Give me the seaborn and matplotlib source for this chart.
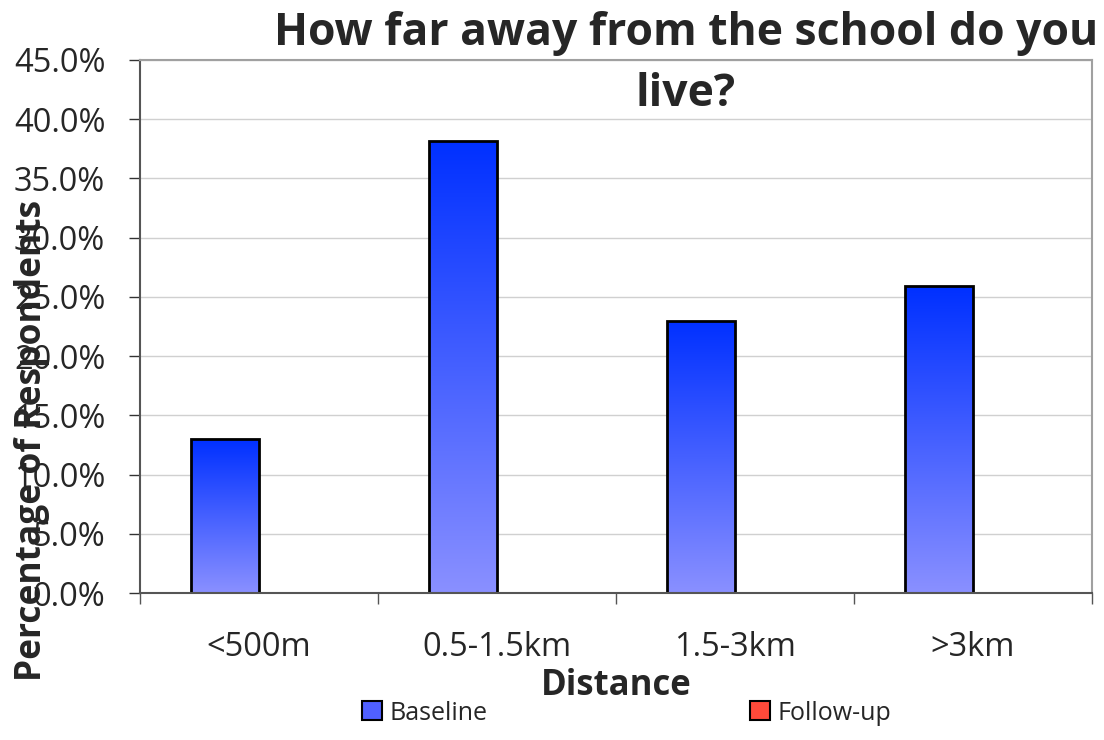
import numpy as np
import pandas as pd
import matplotlib
matplotlib.use("Agg")
import matplotlib.pyplot as plt
import seaborn as sns
from matplotlib.patches import Patch
from matplotlib.colors import LinearSegmentedColormap
from matplotlib.ticker import FixedLocator, PercentFormatter

# =====================================================
# DATA
# =====================================================

distances = ["<500m", "0.5-1.5km", "1.5-3km", ">3km"]
baseline = [13.0, 38.2, 23.0, 25.9]
follow_up = [0.0, 0.0, 0.0, 0.0]
series_names = ["Baseline", "Follow-up"]

df = pd.DataFrame({
    "Distance": distances * 2,
    "Series": [series_names[0]] * 4 + [series_names[1]] * 4,
    "Value": baseline + follow_up,
})

# =====================================================
# FIGURE
# =====================================================

sns.set_style("white")
plt.rcParams["font.family"] = ["Open Sans", "DejaVu Sans"]

fig = plt.figure(figsize=(11.04, 7.4), dpi=100)
ax = fig.add_axes([140 / 1104, 147 / 740, 952 / 1104, 533 / 740])

sns.barplot(
    data=df,
    x="Distance",
    y="Value",
    hue="Series",
    order=distances,
    hue_order=series_names,
    width=0.57,
    edgecolor="black",
    linewidth=2,
    legend=False,
    ax=ax,
)

# gradient fill like the old Excel style
blue_cmap = LinearSegmentedColormap.from_list("b", ["#8a90ff", "#0030ff"])
grad = np.linspace(0, 1, 256).reshape(-1, 1)
for bar in ax.patches:
    h = bar.get_height()
    if h <= 0:
        bar.set_visible(False)
        continue
    x0 = bar.get_x()
    w = bar.get_width()
    im = ax.imshow(grad, cmap=blue_cmap, aspect="auto", origin="lower",
                   extent=[x0, x0 + w, 0, h], zorder=bar.get_zorder() - 0.1)
    im.set_clip_path(bar)
    bar.set_facecolor("none")

ax.set_xlim(-0.5, 3.5)
ax.set_ylim(0, 45)
ax.set_yticks(np.arange(0, 46, 5))
ax.yaxis.set_major_formatter(PercentFormatter(decimals=1))
ax.grid(axis="y", color="#d0d0d0", linewidth=1)
ax.set_axisbelow(True)

ax.xaxis.set_minor_locator(FixedLocator([-0.5, 0.5, 1.5, 2.5, 3.5]))
ax.tick_params(axis="x", which="major", length=0, labelsize=23.5, pad=27)
ax.tick_params(axis="x", which="minor", length=8, width=1, color="#555555",
               direction="out", bottom=True)
ax.tick_params(axis="y", length=8, width=1, color="#333333",
               direction="out", left=True, labelsize=23.5, pad=17)

for side in ["left", "bottom"]:
    ax.spines[side].set_color("#555555")
    ax.spines[side].set_linewidth(1.5)
for side in ["top", "right"]:
    ax.spines[side].set_color("#a0a0a0")
    ax.spines[side].set_linewidth(1.5)

ax.set_xlabel("Distance", fontsize=25, fontweight="bold", labelpad=3)
ax.set_ylabel("Percentage of Respondents", fontsize=25.5, fontweight="bold")
ax.yaxis.set_label_coords(-0.095, 0.287)

fig.text(686 / 1104, 1 - 64 / 740, "How far away from the school do you\nlive?",
         ha="center", va="center", fontsize=32, fontweight="bold",
         linespacing=1.5)

handles = [
    Patch(facecolor="#5060ff", edgecolor="black", linewidth=1.5),
    Patch(facecolor="#ff4a3a", edgecolor="black", linewidth=1.5),
]
fig.legend(
    handles,
    series_names,
    loc="center left",
    bbox_to_anchor=(362 / 1104, 1 - 713 / 740),
    ncol=2,
    frameon=False,
    fontsize=18,
    handlelength=0.8,
    handleheight=0.8,
    handletextpad=0.3,
    columnspacing=10.5,
    borderaxespad=0,
    borderpad=0,
)

plt.savefig("out.png", dpi=100)
